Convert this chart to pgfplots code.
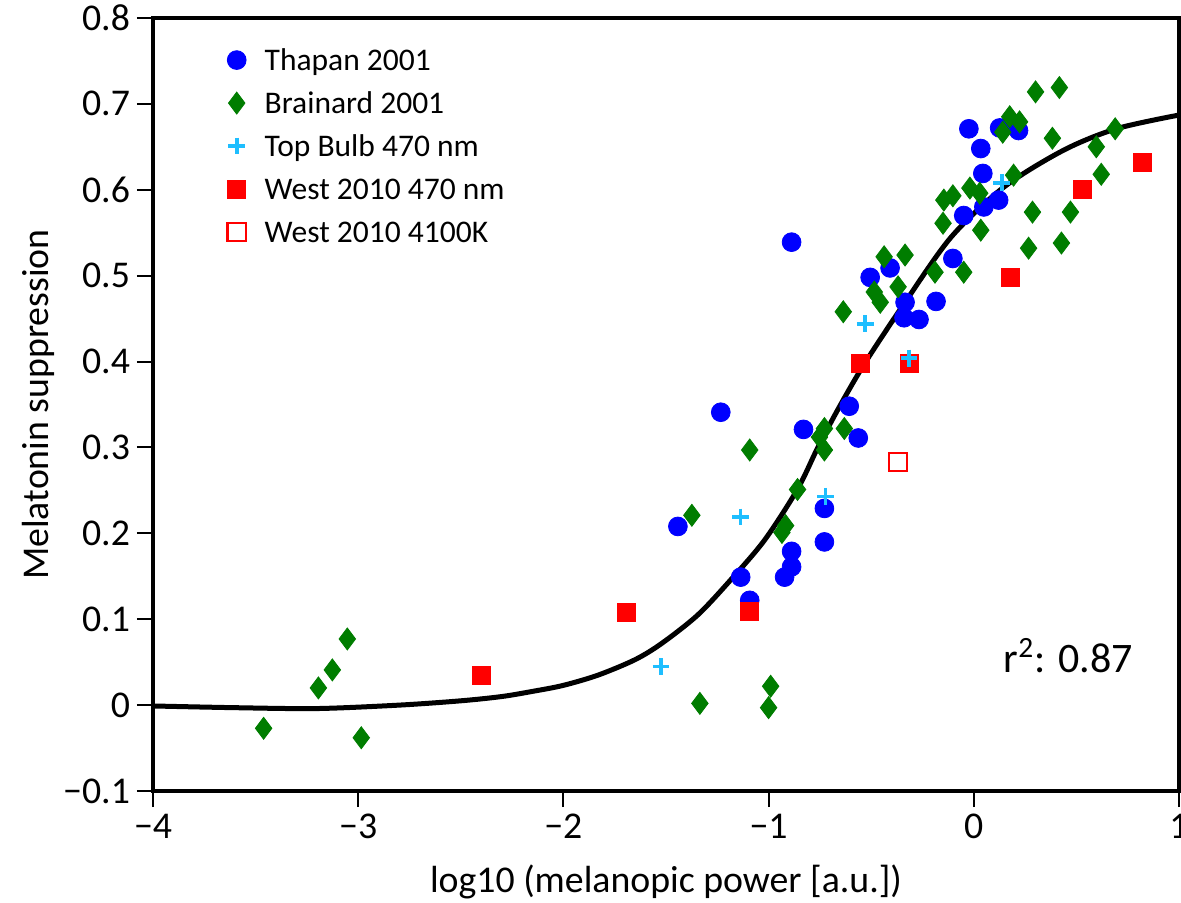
\documentclass[border=0pt]{standalone}
\usepackage{fontspec}
\setmainfont{Carlito}
\usepackage{pgfplots}
\pgfplotsset{compat=1.18}
\definecolor{cblue}{RGB}{0,0,255}
\definecolor{cgreen}{RGB}{0,125,0}
\definecolor{ccyan}{RGB}{30,190,255}
\definecolor{cred}{RGB}{255,0,0}
\begin{document}
\begin{tikzpicture}
\begin{axis}[
  scale only axis, width=513pt, height=386.5pt,
  xmin=-4, xmax=1, ymin=-0.1, ymax=0.8,
  axis line style={line width=1.75pt},
  tick style={line width=1pt, black},
  major tick length=8pt,
  tick align=outside,
  xtick pos=bottom, ytick pos=left,
  xtick={-4,-3,-2,-1,0,1},
  xticklabels={−4,−3,−2,−1,0,1},
  ytick={-0.1,0,0.1,0.2,0.3,0.4,0.5,0.6,0.7,0.8},
  yticklabels={−0.1,0,0.1,0.2,0.3,0.4,0.5,0.6,0.7,0.8},
  ticklabel style={font=\fontsize{18.9}{22}\selectfont},
  label style={font=\fontsize{18.9}{22}\selectfont},
  xlabel={log10 (melanopic power [a.u.])},
  ylabel={Melatonin suppression},
  xlabel style={at={(axis description cs:0.5,-0.1307)}, anchor=base},
  ylabel style={at={(axis description cs:-0.1023,0.5)}, anchor=base},
  legend image code/.code={\draw[#1] plot coordinates {(0pt,0pt)}; \path[draw=none, fill=none] (-5pt,-8pt) rectangle (5pt,8pt);},
  legend cell align=left,
  legend style={at={(axis cs:-3.592,0.751)}, anchor=north west, xshift=-5pt, yshift=8pt,
    draw=none, fill=none, inner sep=0pt, outer sep=0pt, column sep=9pt, row sep=5.5pt,
    font=\fontsize{15.75}{18}\selectfont,
    nodes={inner sep=0pt, text height=12pt, text depth=1.9pt}},
]
% legend
\addlegendimage{only marks, mark=*, mark size=4.7pt, color=cblue}
\addlegendentry{Thapan 2001}
\addlegendimage{only marks, mark=diamond*, mark size=5.5pt, color=cgreen}
\addlegendentry{Brainard 2001}
\addlegendimage{only marks, mark=+, mark size=4.2pt, mark options={line width=1.8pt}, color=ccyan}
\addlegendentry{Top Bulb 470 nm}
\addlegendimage{only marks, mark=square*, mark size=4.5pt, color=cred}
\addlegendentry{West 2010 470 nm}
\addlegendimage{only marks, mark=square, mark size=4.6pt, mark options={line width=1.2pt}, color=cred}
\addlegendentry{West 2010 4100K}

% Thapan 2001
\addplot[forget plot, only marks, mark=*, mark size=4.7pt, color=cblue] coordinates {
(-0.888,0.539) (-0.505,0.498) (-0.408,0.509) (-1.233,0.341) (-0.830,0.321)
(-0.607,0.348) (-0.563,0.311) (-1.442,0.208) (-0.728,0.229) (-0.728,0.190)
(-0.888,0.179) (-0.888,0.161) (-0.922,0.149) (-1.136,0.149) (-1.092,0.122)
(-0.024,0.671) (0.126,0.672) (0.218,0.669) (0.034,0.648) (0.044,0.619)
(0.121,0.588) (0.049,0.580) (-0.049,0.570) (-0.102,0.520) (-0.184,0.470)
(-0.335,0.469) (-0.340,0.451) (-0.267,0.449)
};
% Brainard 2001
\addplot[forget plot, only marks, mark=diamond*, mark size=5.5pt, color=cgreen] coordinates {
(-3.053,0.077) (-3.126,0.041) (-3.194,0.020) (-3.461,-0.027) (-2.985,-0.038)
(-1.092,0.297) (-1.374,0.221) (-1.335,0.002) (-0.990,0.022) (-1.000,-0.003)
(-0.917,0.209) (-0.935,0.201) (-0.859,0.251) (-0.728,0.297) (-0.728,0.322)
(-0.752,0.312) (-0.631,0.322) (-0.437,0.522) (-0.485,0.481) (-0.456,0.469)
(-0.636,0.458) (-0.335,0.524) (-0.369,0.487) (-0.189,0.504) (-0.049,0.504)
(0.301,0.714) (0.417,0.719) (0.175,0.685) (0.223,0.679) (0.141,0.667)
(0.383,0.660) (0.689,0.671) (0.597,0.650) (0.621,0.618) (0.194,0.617)
(-0.019,0.602) (0.029,0.596) (-0.146,0.588) (-0.102,0.593) (0.286,0.574)
(0.471,0.574) (-0.150,0.561) (0.034,0.553) (0.267,0.532) (0.427,0.538)
};
% West 2010 470 nm
\addplot[forget plot, only marks, mark=square*, mark size=4.5pt, color=cred] coordinates {
(-2.398,0.035) (-1.694,0.108) (-1.092,0.109) (-0.553,0.398) (-0.316,0.398)
(0.180,0.498) (0.529,0.600) (0.820,0.632)
};
% West 2010 4100K
\addplot[forget plot, only marks, mark=square, mark size=4.6pt, mark options={line width=1.2pt}, color=cred] coordinates {
(-0.369,0.283)
};
% fitted curve
\addplot[forget plot, black, line width=2.5pt, smooth] coordinates {
(-4.0,-0.001) (-3.6,-0.003) (-3.2,-0.004) (-2.8,0.000) (-2.5,0.005) (-2.3,0.010)
(-2.15,0.016) (-2.0,0.023) (-1.83,0.035) (-1.65,0.053) (-1.52,0.072) (-1.345,0.105)
(-1.184,0.146) (-1.02,0.192) (-0.86,0.251) (-0.762,0.299) (-0.665,0.343) (-0.534,0.397)
(-0.335,0.469) (-0.11,0.545) (0.146,0.603) (0.437,0.646) (0.694,0.671) (1.0,0.687)
};
% Top Bulb 470 nm
\addplot[forget plot, only marks, mark=+, mark size=4.2pt, mark options={line width=1.8pt}, color=ccyan] coordinates {
(-1.524,0.045) (-1.136,0.219) (-0.723,0.243) (-0.529,0.444) (-0.316,0.404) (0.136,0.608)
};
\node[anchor=base west, font=\fontsize{21}{24}\selectfont] at (axis cs:0.112,0.038) {r\textsuperscript{2}: 0.87};
\end{axis}
\pgfresetboundingbox
\useasboundingbox ([shift={(-76.5pt,-56pt)}]current axis.south west) rectangle ([shift={(514pt,395.5pt)}]current axis.south west);
\end{tikzpicture}
\end{document}
